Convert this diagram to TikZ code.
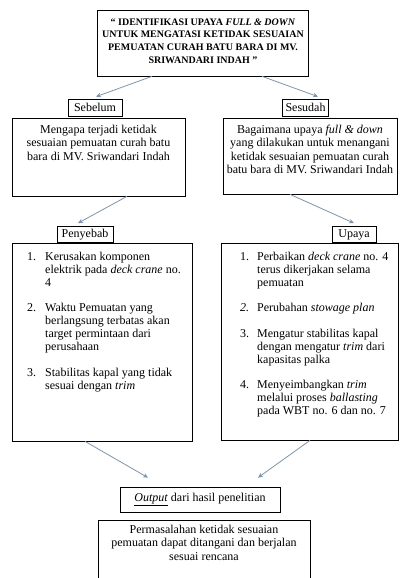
\documentclass[tikz,border=0pt]{standalone}
\usepackage{fontspec}
\setmainfont{Liberation Serif}
\usetikzlibrary{arrows.meta,calc}
\definecolor{arrowc}{RGB}{125,148,176}
\tikzset{
  box/.style={draw=black, line width=0.7pt, inner sep=0pt, align=center,
    font=\fontsize{12}{13.8}\selectfont},
  txt/.style={inner sep=0pt, align=center, font=\fontsize{12}{13.6}\selectfont},
  listtxt/.style={inner sep=0pt, anchor=north west, font=\fontsize{12}{13}\selectfont},
  arr/.style={draw=arrowc, line width=0.8pt, -{Stealth[length=5pt,width=4.5pt]}},
}
\begin{document}
\begin{tikzpicture}[x=1pt,y=-1pt]
\clip (0,0) rectangle (405,578);
\fill[white] (0,0) rectangle (405,578);

% title
\node[box, minimum width=211pt, minimum height=66pt] (title) at (202.5,43) {};
\node[inner sep=0pt, align=center, font=\bfseries\fontsize{10}{12.6}\selectfont] (titletext) at (203,41)
  {“ IDENTIFIKASI UPAYA \textit{FULL \& DOWN}\\UNTUK MENGATASI KETIDAK SESUAIAN\\PEMUATAN CURAH BATU BARA DI MV.\\SRIWANDARI INDAH ”};

% level 2
\node[box, minimum width=54pt, minimum height=17pt] (sebelum) at (95,107.5) {Sebelum};
\node[box, minimum width=46pt, minimum height=17pt] (sesudah) at (305.5,107.5) {Sesudah};

% question boxes
\node[box, minimum width=173pt, minimum height=78pt] (mengapa) at (98.5,157) {};
\node[txt, anchor=north] (mengapatext) at (98.5,124.5)
  {Mengapa terjadi ketidak\\sesuaian pemuatan curah batu\\bara di MV. Sriwandari Indah};
\node[box, minimum width=174pt, minimum height=76pt] (bagaimana) at (310,156) {};
\node[txt, anchor=north] (bagaimanatext) at (310,124.5)
  {Bagaimana upaya \textit{full \& down}\\yang dilakukan untuk menangani\\ketidak sesuaian pemuatan curah\\batu bara di MV. Sriwandari Indah};

% level 3
\node[box, minimum width=56pt, minimum height=16pt] (penyebab) at (85,234.5) {Penyebab};
\node[box, minimum width=44pt, minimum height=16pt] (upaya) at (354,234.5) {Upaya};

% lists
\node[box, minimum width=180pt, minimum height=198pt] (leftlist) at (102,342) {};
\node[listtxt] (lefttext) at (27,251)
  {\begin{tabular}{@{}p{18pt}@{}l@{}}
  1. & Kerusakan komponen\\
     & elektrik pada \textit{deck crane} no.\\
     & 4\\[12.5pt]
  2. & Waktu Pemuatan yang\\
     & berlangsung terbatas akan\\
     & target permintaan dari\\
     & perusahaan\\[12.5pt]
  3. & Stabilitas kapal yang tidak\\
     & sesuai dengan \textit{trim}
  \end{tabular}};
\node[box, minimum width=177pt, minimum height=197pt] (rightlist) at (309.5,341.5) {};
\node[listtxt] (righttext) at (240,251)
  {\begin{tabular}{@{}p{17pt}@{}l@{}}
  1. & Perbaikan \textit{deck crane} no. 4\\
     & terus dikerjakan selama\\
     & pemuatan\\[12.5pt]
  \textit{2.} & Perubahan \textit{stowage plan}\\[12.5pt]
  3. & Mengatur stabilitas kapal\\
     & dengan mengatur \textit{trim} dari\\
     & kapasitas palka\\[12.5pt]
  4. & Menyeimbangkan \textit{trim}\\
     & melalui proses \textit{ballasting}\\
     & pada WBT no. 6 dan no. 7
  \end{tabular}};

% output
\node[box, minimum width=160pt, minimum height=25pt] (output) at (200,499.5)
  {\underline{\textit{Output}} dari hasil penelitian};
\node[box, minimum width=212pt, minimum height=70pt] (final) at (204,555) {};
\node[txt, anchor=north] (finaltext) at (204,524.5)
  {Permasalahan ketidak sesuaian\\pemuatan dapat ditangani dan berjalan\\sesuai rencana};

% connectors
\draw[arr] ([xshift=-50.5pt]title.south) -- ([xshift=1pt,yshift=2pt]sebelum.north);
\draw[arr] ([xshift=59.5pt]title.south) -- ([xshift=12.5pt,yshift=2pt]sesudah.north);
\draw[arr] ([xshift=28.5pt]mengapa.south) -- ([xshift=-7pt,yshift=3pt]penyebab.north);
\draw[arr] ([xshift=-20pt]bagaimana.south) -- ([xshift=0pt,yshift=3pt]upaya.north);
\draw[arr] ([xshift=-17pt]leftlist.south) -- ([xshift=-52pt,yshift=9pt]output.north);
\draw[arr] ([xshift=0.5pt]rightlist.south) -- ([xshift=58pt,yshift=9pt]output.north);
\end{tikzpicture}
\end{document}
